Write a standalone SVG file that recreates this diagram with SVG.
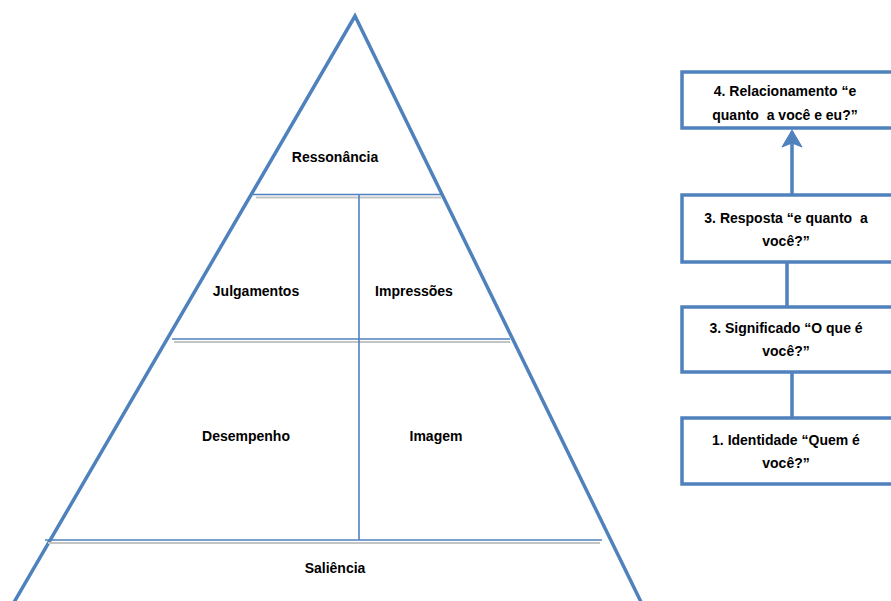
<svg xmlns="http://www.w3.org/2000/svg" width="891" height="601" viewBox="0 0 891 601">
  <defs>
    <style>
      .lbl { font-family: "Liberation Sans", Arial, sans-serif; font-weight: bold; font-size: 14px; fill: #000; text-anchor: middle; white-space: pre; }
      .edge { stroke: #4f81bd; stroke-width: 3.5; fill: none; }
      .div { stroke: #4f81bd; stroke-width: 1.6; }
      .shade { stroke: #c4c4c4; stroke-width: 2; }
      .box { fill: #fff; stroke: #4f81bd; stroke-width: 3.5; }
      .conn { stroke: #4f81bd; stroke-width: 3.5; fill: none; }
      .head { fill: #4f81bd; stroke: #4f81bd; stroke-width: 1; stroke-linejoin: round; }
    </style>
  </defs>
  <rect width="891" height="601" fill="#fff"/>

  <!-- Pyramid -->
  <g id="pyramid">
    <path class="edge" d="M13,604 L355,16 L642,604"/>
    <!-- level dividers: blue rule with grey shade beneath -->
    <line class="shade" x1="256" y1="197.5" x2="441" y2="197.5"/>
    <line class="div" x1="253" y1="194.5" x2="442" y2="194.5"/>
    <line class="shade" x1="174" y1="342" x2="510" y2="342"/>
    <line class="div" x1="172" y1="339" x2="510" y2="339"/>
    <line class="shade" x1="48" y1="543" x2="600" y2="543"/>
    <line class="div" x1="45" y1="540" x2="602" y2="540"/>
    <line class="div" x1="359" y1="195" x2="359" y2="540"/>
  </g>

  <g id="ressonancia"><text class="lbl" x="335" y="162">Ressonância</text></g>
  <g id="julgamentos"><text class="lbl" x="256" y="296">Julgamentos</text></g>
  <g id="impressoes"><text class="lbl" x="414" y="296">Impressões</text></g>
  <g id="desempenho"><text class="lbl" x="246" y="441">Desempenho</text></g>
  <g id="imagem"><text class="lbl" x="436" y="441">Imagem</text></g>
  <g id="saliencia"><text class="lbl" x="335" y="573">Saliência</text></g>

  <!-- Connectors between the steps -->
  <g id="connectors">
    <line class="conn" x1="792" y1="195" x2="792" y2="140"/>
    <path class="head" d="M782,147 L792,130 L802,147 L792,143 Z"/>
    <line class="conn" x1="787" y1="262" x2="787" y2="307"/>
    <line class="conn" x1="792" y1="372" x2="792" y2="418"/>
  </g>

  <g id="relacionamento">
    <rect class="box" x="682" y="72" width="220" height="56"/>
    <text class="lbl" x="785" y="96">4. Relacionamento “e</text>
    <text class="lbl" x="785" y="120">quanto  a você e eu?”</text>
  </g>
  <g id="resposta">
    <rect class="box" x="682" y="195" width="220" height="67"/>
    <text class="lbl" x="786" y="223">3. Resposta “e quanto  a</text>
    <text class="lbl" x="786" y="246">você?”</text>
  </g>
  <g id="significado">
    <rect class="box" x="682" y="307" width="220" height="65"/>
    <text class="lbl" x="786" y="333">3. Significado “O que é</text>
    <text class="lbl" x="786" y="356">você?”</text>
  </g>
  <g id="identidade">
    <rect class="box" x="682" y="418" width="220" height="66"/>
    <text class="lbl" x="786" y="445">1. Identidade “Quem é</text>
    <text class="lbl" x="786" y="468">você?”</text>
  </g>
</svg>
